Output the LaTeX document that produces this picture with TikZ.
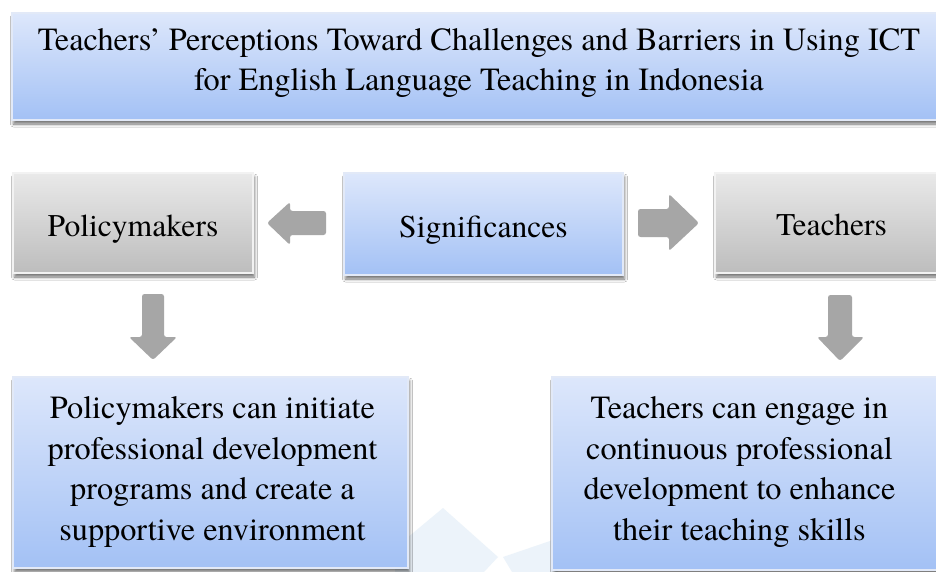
\documentclass[tikz,border=0pt]{standalone}
\usepackage{fontspec}
\setmainfont{texgyretermes}[Extension=.otf, UprightFont=*-regular, BoldFont=*-bold]
\usetikzlibrary{shadows.blur}

\definecolor{bluetop}{RGB}{221,231,251}
\definecolor{bluebot}{RGB}{163,193,245}
\definecolor{graytop}{RGB}{233,233,233}
\definecolor{graybot}{RGB}{189,189,189}
\definecolor{arrowgray}{RGB}{166,166,166}
\definecolor{rimblue}{RGB}{226,233,247}
\definecolor{rimgray}{RGB}{242,242,242}
\definecolor{markblue}{RGB}{236,243,250}

\tikzset{
  box/.style={rectangle, inner sep=0pt, line width=1.3pt,
    blur shadow={shadow xshift=1.5pt, shadow yshift=-4pt,
                 shadow blur radius=3pt, shadow opacity=55}},
  bluebox/.style={box, draw=rimblue, top color=bluetop, bottom color=bluebot},
  graybox/.style={box, draw=rimgray, top color=graytop, bottom color=graybot},
  txt/.style={font=\fontsize{31.6}{40.7}\selectfont, align=center, inner sep=0pt},
  bigtxt/.style={txt, font=\fontsize{32.3}{40.7}\selectfont},
  blockarrow/.style={fill=arrowgray, rounded corners=2.5pt},
  bgmark/.style={fill=markblue}
}

\begin{document}
\begin{tikzpicture}[x=1pt,y=-1pt]
\useasboundingbox (0,0) rectangle (936,572);
\fill[white] (0,0) rectangle (936,572);

% faint background marks
\fill[bgmark] (443,508) -- (498,557) -- (484,572) -- (395,572) -- (395,548) -- cycle;
\fill[bgmark] (503,557) -- (553,540) -- (558,572) -- (512,572) -- cycle;

% title
\node[bluebox, minimum width=934pt, minimum height=107pt] (title) at (479,66.5) {};
\node[bigtxt] (titletext) at (479,63) {Teachers’ Perceptions Toward Challenges and Barriers in Using ICT\\for English Language Teaching in Indonesia};

% middle row
\node[graybox, minimum width=240pt, minimum height=100pt] (policy) at (133,223) {};
\node[txt, anchor=base] (policytext) at (133,236) {Policymakers};

\node[bluebox, minimum width=279pt, minimum height=102pt] (sig) at (483.5,224) {};
\node[txt, anchor=base] (sigtext) at (483.5,237) {Significances};

\node[graybox, minimum width=233pt, minimum height=100pt] (teach) at (831.5,223) {};
\node[txt, anchor=base] (teachtext) at (831.5,235) {Teachers};

% bottom row
\node[bluebox, minimum width=395pt, minimum height=191pt] (policyout) at (210.5,472.5) {};
\node[bigtxt] (policyouttext) at (212.5,472) {Policymakers can initiate\\professional development\\programs and create a\\supportive environment};

\node[bluebox, minimum width=395pt, minimum height=193pt] (teachout) at (749.5,473.5) {};
\node[bigtxt] (teachouttext) at (739.5,472) {Teachers can engage in\\continuous professional\\development to enhance\\their teaching skills};

% block arrows
\fill[blockarrow] (326,211) -- (290,211) -- (290,202) -- (267,223) -- (290,245) -- (290,235) -- (326,235) -- cycle;
\fill[blockarrow] (638,209) -- (669,209) -- (669,194) -- (699,223) -- (669,251) -- (669,237) -- (638,237) -- cycle;
\fill[blockarrow] (142,294) -- (164,294) -- (164,337) -- (177,337) -- (153,360) -- (129,337) -- (142,337) -- cycle;
\fill[blockarrow] (828,295) -- (852,295) -- (852,337) -- (864,337) -- (840,361) -- (817,337) -- (828,337) -- cycle;
\end{tikzpicture}
\end{document}
